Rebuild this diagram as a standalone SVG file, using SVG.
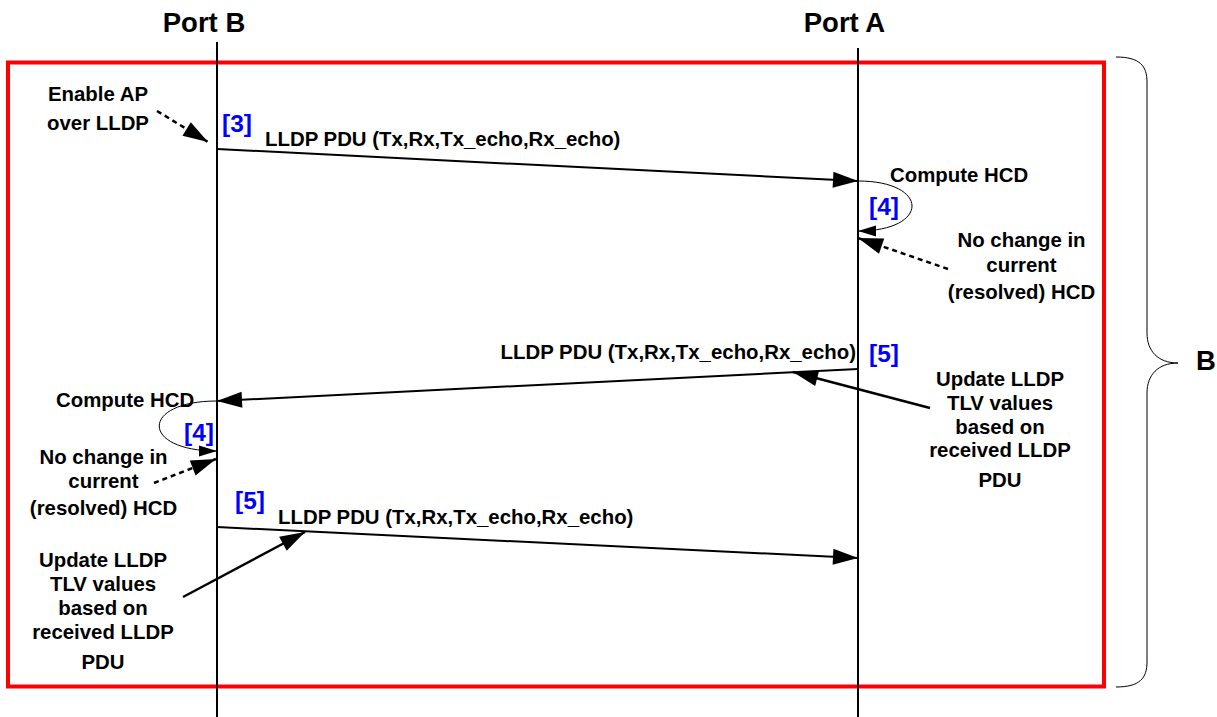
<svg xmlns="http://www.w3.org/2000/svg" width="1217" height="717" viewBox="0 0 1217 717">
  <style>
    text { font-family: "Liberation Sans", Arial, sans-serif; font-weight: bold; fill: #000; }
    .hdr { font-size: 27.5px; }
    .lbl { font-size: 20.4px; }
    .step { font-size: 24.5px; fill: #0000FF; }
    .mid { text-anchor: middle; }
    .life { stroke: #000; stroke-width: 2; fill: none; }
    .msg { stroke: #000; stroke-width: 2; fill: none; marker-end: url(#big); }
    .note { stroke: #000; stroke-width: 2.5; fill: none; stroke-dasharray: 5 4; marker-end: url(#big); }
    .ptr { stroke: #000; stroke-width: 2.5; fill: none; marker-end: url(#big); }
    .loop { stroke: #000; stroke-width: 1; fill: none; marker-end: url(#small); }
  </style>
  <defs>
    <marker id="big" markerUnits="userSpaceOnUse" markerWidth="25" markerHeight="16" refX="25" refY="8" orient="auto" overflow="visible">
      <path d="M0,0 L25,8 L0,16 Z" fill="#000"/>
    </marker>
    <marker id="small" markerUnits="userSpaceOnUse" markerWidth="18" markerHeight="11" refX="18" refY="5.5" orient="auto" overflow="visible">
      <path d="M0,0 L18,5.5 L0,11 Z" fill="#000"/>
    </marker>
  </defs>

  <rect width="1217" height="717" fill="#fff"/>

  <!-- exchange frame and bracket -->
  <g id="frame">
    <rect x="8" y="62.5" width="1096" height="624" fill="none" stroke="#FF0000" stroke-width="4"/>
  </g>
  <g id="brace-b">
    <path d="M1116,57 C1140,57 1147,66 1147,82 L1147,333 C1147,351 1158,363 1178,363 C1158,363 1147,375 1147,393 L1147,662 C1147,678 1140,687 1116,687" fill="none" stroke="#000" stroke-width="1"/>
    <text class="hdr" x="1196" y="370">B</text>
  </g>

  <!-- lifelines -->
  <g id="port-b">
    <text class="hdr mid" x="204" y="32">Port B</text>
    <line class="life" x1="217" y1="42" x2="217" y2="717"/>
  </g>
  <g id="port-a">
    <text class="hdr mid" x="844.5" y="32">Port A</text>
    <line class="life" x1="858" y1="48" x2="858" y2="717"/>
  </g>

  <!-- annotations -->
  <g id="note-enable">
    <text class="lbl mid" x="98" y="101">Enable AP</text>
    <text class="lbl mid" x="98" y="130">over LLDP</text>
  </g>
  <g id="step3"><text class="step" x="222" y="132">[3]</text></g>

  <g id="compute-a">
    <text class="lbl" x="890" y="182">Compute HCD</text>
    <text class="step" x="869" y="215">[4]</text>
  </g>
  <g id="nochange-a">
    <text class="lbl mid" x="1021.5" y="247">No change in</text>
    <text class="lbl mid" x="1021.5" y="272">current</text>
    <text class="lbl mid" x="1021.5" y="299">(resolved) HCD</text>
  </g>
  <g id="step5-a"><text class="step" x="869" y="362">[5]</text></g>
  <g id="update-a">
    <text class="lbl mid" x="1000" y="386">Update LLDP</text>
    <text class="lbl mid" x="1000" y="410">TLV values</text>
    <text class="lbl mid" x="1000" y="434">based on</text>
    <text class="lbl mid" x="1000" y="457">received LLDP</text>
    <text class="lbl mid" x="1000" y="487">PDU</text>
  </g>

  <g id="compute-b">
    <text class="lbl" x="56" y="407">Compute HCD</text>
    <text class="step" x="184" y="441">[4]</text>
  </g>
  <g id="nochange-b">
    <text class="lbl mid" x="103.5" y="464">No change in</text>
    <text class="lbl mid" x="103.5" y="488">current</text>
    <text class="lbl mid" x="103.5" y="515">(resolved) HCD</text>
  </g>
  <g id="step5-b"><text class="step" x="235" y="509">[5]</text></g>
  <g id="update-b">
    <text class="lbl mid" x="103" y="567">Update LLDP</text>
    <text class="lbl mid" x="103" y="591">TLV values</text>
    <text class="lbl mid" x="103" y="615">based on</text>
    <text class="lbl mid" x="103" y="639">received LLDP</text>
    <text class="lbl mid" x="103" y="669">PDU</text>
  </g>

  <!-- connectors -->
  <g id="connectors">
    <path class="msg" d="M217,149 L858,181"/>
    <text class="lbl" x="265" y="146">LLDP PDU (Tx,Rx,Tx_echo,Rx_echo)</text>

    <path class="msg" d="M858,369 L217,401"/>
    <text class="lbl" x="856" y="359" text-anchor="end">LLDP PDU (Tx,Rx,Tx_echo,Rx_echo)</text>

    <path class="msg" d="M217,527 L858,558"/>
    <text class="lbl" x="278" y="524">LLDP PDU (Tx,Rx,Tx_echo,Rx_echo)</text>

    <path class="loop" d="M858,181 C930,181 930,231 858,231"/>
    <path class="loop" d="M217,401 C140,401 140,451 217,451"/>

    <path class="note" d="M157,111 L208,142"/>
    <path class="note" d="M948,269 L858,238"/>
    <path class="note" d="M154,483 L216,459"/>

    <path class="ptr" d="M930,408 L793,372"/>
    <path class="ptr" d="M183,597 L305,532"/>
  </g>
</svg>
